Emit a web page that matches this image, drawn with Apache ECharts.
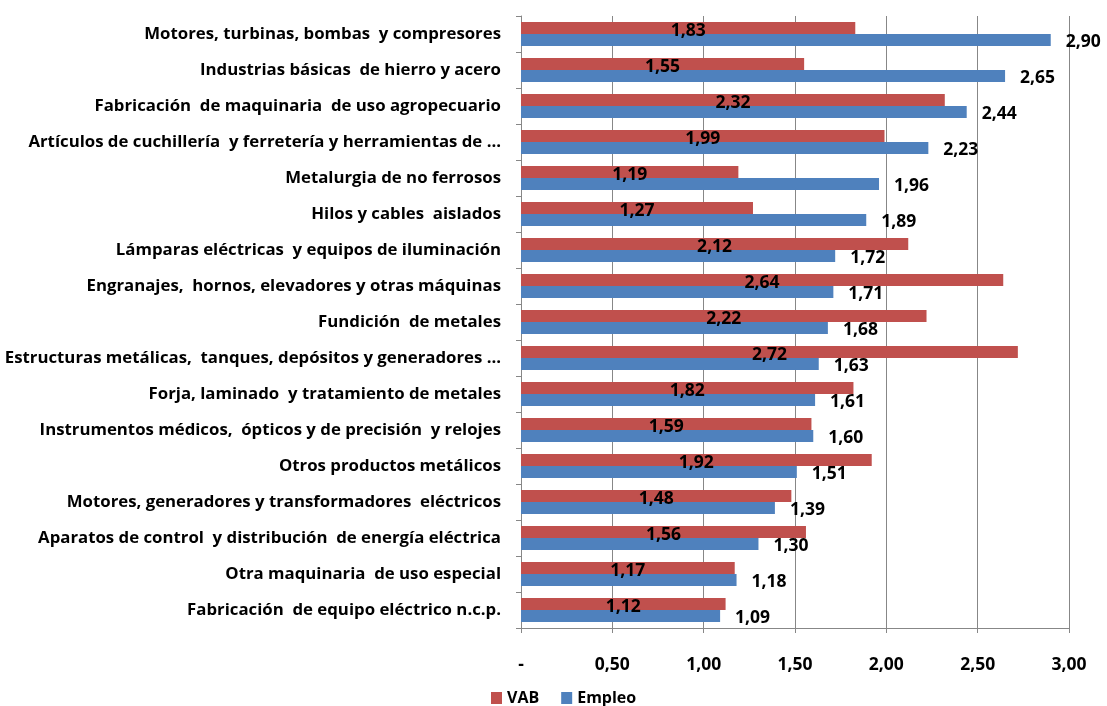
<!DOCTYPE html>
<html><head><meta charset="utf-8">
<script src="https://cdn.jsdelivr.net/npm/echarts@6/dist/echarts.min.js"></script>
<style>html,body{margin:0;padding:0;background:#fff}#c{width:1107px;height:706px}</style>
</head><body><div id="c"></div>
<script>
var categories = [
  "Motores, turbinas, bombas  y compresores",
  "Industrias básicas  de hierro y acero",
  "Fabricación  de maquinaria  de uso agropecuario",
  "Artículos de cuchillería  y ferretería y herramientas de ...",
  "Metalurgia de no ferrosos",
  "Hilos y cables  aislados",
  "Lámparas eléctricas  y equipos de iluminación",
  "Engranajes,  hornos, elevadores y otras máquinas",
  "Fundición  de metales",
  "Estructuras metálicas,  tanques, depósitos y generadores ...",
  "Forja, laminado  y tratamiento de metales",
  "Instrumentos médicos,  ópticos y de precisión  y relojes",
  "Otros productos metálicos",
  "Motores, generadores y transformadores  eléctricos",
  "Aparatos de control  y distribución  de energía eléctrica",
  "Otra maquinaria  de uso especial",
  "Fabricación  de equipo eléctrico n.c.p."
];
var vab = [1.83, 1.55, 2.32, 1.99, 1.19, 1.27, 2.12, 2.64, 2.22, 2.72, 1.82, 1.59, 1.92, 1.48, 1.56, 1.17, 1.12];
var empleo = [2.90, 2.65, 2.44, 2.23, 1.96, 1.89, 1.72, 1.71, 1.68, 1.63, 1.61, 1.60, 1.51, 1.39, 1.30, 1.18, 1.09];
var seriesNames = ["VAB", "Empleo"];

var FONT = "Open Sans";
function fmt(v){ return v === 0 ? "-" : v.toFixed(2).replace(".", ","); }
var chart = echarts.init(document.getElementById("c"));
chart.setOption({
  animation: false,
  textStyle: {fontFamily: FONT},
  grid: {left: 521, right: 38, top: 16, bottom: 78, containLabel: false, outerBoundsMode: "none"},
  legend: {
    left: 486, top: 685, itemWidth: 11, itemHeight: 12, itemGap: 22, icon: "rect",
    textStyle: {fontFamily: FONT, fontWeight: "bold", fontSize: 16, color: "#000"},
    data: seriesNames
  },
  xAxis: {
    type: "value", min: 0, max: 3, interval: 0.5,
    axisLine: {show: true, lineStyle: {color: "#878787"}},
    axisTick: {show: true, length: 5, lineStyle: {color: "#878787"}},
    splitLine: {show: true, lineStyle: {color: "#878787", width: 1}},
    axisLabel: {formatter: fmt, margin: 28, fontFamily: FONT, fontWeight: "bold", fontSize: 17.5, color: "#000"}
  },
  yAxis: {
    type: "category", data: categories, inverse: true,
    axisLine: {show: true, lineStyle: {color: "#878787"}},
    axisTick: {show: true, length: 5, lineStyle: {color: "#878787"}},
    axisLabel: {margin: 20, fontFamily: FONT, fontWeight: "bold", fontSize: 16.8, color: "#000"}
  },
  series: [
    {name: seriesNames[0], type: "bar", data: vab, barWidth: 12, barGap: "0%",
     itemStyle: {color: "#C0504D"},
     label: {show: true, position: "inside", offset: [0, 3], formatter: function(p){return fmt(p.value);},
       fontFamily: FONT, fontWeight: "bold", fontSize: 17.5, color: "#000"}},
    {name: seriesNames[1], type: "bar", data: empleo, barWidth: 12, barGap: "0%",
     itemStyle: {color: "#4F81BD"},
     label: {show: true, position: "right", distance: 15, offset: [0, 2], formatter: function(p){return fmt(p.value);},
       fontFamily: FONT, fontWeight: "bold", fontSize: 17.5, color: "#000"}}
  ]
});
</script></body></html>
